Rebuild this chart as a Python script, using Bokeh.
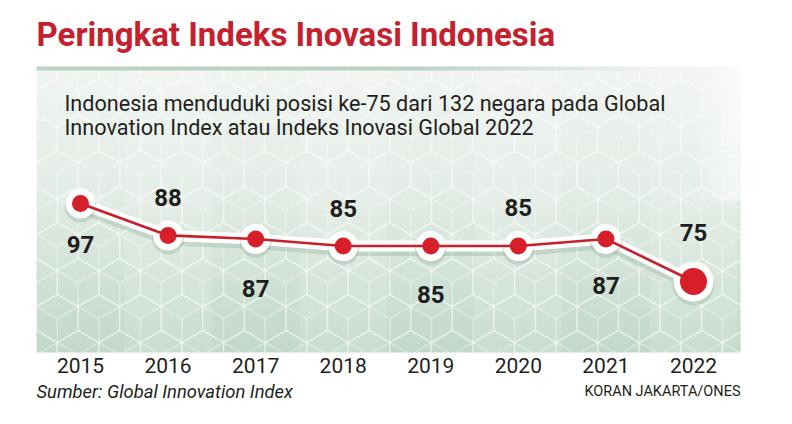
import math
from bokeh.plotting import figure
from bokeh.models import ColumnDataSource, Range1d
from bokeh.core.properties import value
from bokeh.embed import file_html
from bokeh.resources import INLINE

# ---------------- data ----------------
years = [2015, 2016, 2017, 2018, 2019, 2020, 2021, 2022]
ranks = [97, 88, 87, 85, 85, 85, 87, 75]
year_labels = ["2015", "2016", "2017", "2018", "2019", "2020", "2021", "2022"]
title = "Peringkat Indeks Inovasi Indonesia"
subtitle = ["Indonesia menduduki posisi ke-75 dari 132 negara pada Global",
            "Innovation Index atau Indeks Inovasi Global 2022"]
source = "Sumber: Global Innovation Index"
credit = "KORAN JAKARTA/ONES"

# ---------------- scales ----------------
W, H = 776, 408
OFF = 0                  # page offset of the canvas
PX_YEAR = 87.57          # px per year
PX_UNIT = 3.545          # px per rank unit
x_start = years[0] - (80 - OFF) / PX_YEAR
x_end = x_start + W / PX_YEAR
y_end = ranks[0] + (203 - OFF) / PX_UNIT
y_start = y_end - H / PX_UNIT

def dx(X):  # page px -> data x
    return x_start + (X - OFF) / PX_YEAR

def dy(Y):  # page px -> data y
    return y_end - (Y - OFF) / PX_UNIT

p = figure(width=W, height=H, output_backend="svg", toolbar_location=None,
           x_range=Range1d(x_start, x_end), y_range=Range1d(y_start, y_end),
           min_border=0, outline_line_color=None)
p.axis.visible = False
p.grid.visible = False
p.background_fill_color = "white"
p.border_fill_color = "white"

FONT = value("Roboto")

# ---------------- panel background (gradient) ----------------
PL, PR, PT, PB = 36, 740, 66, 352
top_c = (241, 245, 241)
mid_c = (226, 236, 229)
bot_c = (194, 217, 201)
N = 48
l, r, t, b, cols = [], [], [], [], []
for i in range(N):
    y0 = PT + (PB - PT) * i / N
    y1 = PT + (PB - PT) * (i + 1) / N
    f = (i + 0.5) / N
    if f < 0.45:
        g = f / 0.45
        c = tuple(int(top_c[k] + (mid_c[k] - top_c[k]) * g) for k in range(3))
    else:
        g = (f - 0.45) / 0.55
        c = tuple(int(mid_c[k] + (bot_c[k] - mid_c[k]) * g) for k in range(3))
    l.append(dx(PL)); r.append(dx(PR)); t.append(dy(y0)); b.append(dy(min(PB, y1 + 0.6)))
    cols.append("#%02x%02x%02x" % c)
p.quad(left=l, right=r, top=t, bottom=b, fill_color=cols, line_color=None)

# subtle vertical bands
bl, br = [], []
for i in range(len(years)):
    if i % 2 == 1:
        bl.append(max(dx(PL), years[i] - 0.5)); br.append(min(dx(PR), years[i] + 0.5))
p.quad(left=bl, right=br, top=dy(PT), bottom=dy(PB), fill_color="white",
       fill_alpha=0.13, line_color=None)

# right fade to white near top
fl, fr, fa = [], [], []
for i in range(12):
    x0 = 690 + 50 * i / 12
    fl.append(dx(x0)); fr.append(dx(x0 + 50 / 12 + 0.5)); fa.append(0.05 * i)
p.quad(left=fl, right=fr, top=dy(PT), bottom=dy(200), fill_color="white",
       fill_alpha=fa, line_color=None)

# top darker strip
sl, sr, sa = [], [], []
for i in range(30):
    x0 = PL + (640 - PL) * i / 30
    sl.append(dx(x0)); sr.append(dx(x0 + (640 - PL) / 30 + 0.5))
    sa.append(0.9 if i < 18 else 0.9 * (30 - i) / 12)
p.quad(left=sl, right=sr, top=dy(PT), bottom=dy(PT + 4), fill_color="#b5cfbd",
       fill_alpha=sa, line_color=None)

# ---------------- cube pattern ----------------
def clip(x0, y0, x1, y1, xmin, ymin, xmax, ymax):
    t0, t1 = 0.0, 1.0
    ddx, ddy = x1 - x0, y1 - y0
    for pp, q in ((-ddx, x0 - xmin), (ddx, xmax - x0), (-ddy, y0 - ymin), (ddy, ymax - y0)):
        if pp == 0:
            if q < 0:
                return None
        else:
            tt = q / pp
            if pp < 0:
                t0 = max(t0, tt)
            else:
                t1 = min(t1, tt)
    if t0 > t1:
        return None
    return (x0 + t0 * ddx, y0 + t0 * ddy, x0 + t1 * ddx, y0 + t1 * ddy)

R = 24.0
hw = math.sqrt(3) * R
xs0, ys0, xs1, ys1 = [], [], [], []
for row in range(-1, 16):
    for col in range(-1, 20):
        cx = PL + hw * (col + 0.5 * (row % 2))
        cy = PT + 1.5 * R * row
        verts = [(cx + R * math.cos(math.radians(a)), cy + R * math.sin(math.radians(a)))
                 for a in (30, 90, 150, 210, 270, 330)]
        segs = [(verts[k], verts[(k + 1) % 6]) for k in range(6)]
        for k in (1, 3, 5):
            segs.append(((cx, cy), verts[k]))
        for (a, bb) in segs:
            c = clip(a[0], a[1], bb[0], bb[1], PL, PT + 4, PR, PB)
            if c:
                xs0.append(dx(c[0])); ys0.append(dy(c[1]))
                xs1.append(dx(c[2])); ys1.append(dy(c[3]))
p.segment(x0=xs0, y0=ys0, x1=xs1, y1=ys1, line_color="white", line_alpha=0.33,
          line_width=1.6)

# ---------------- line & markers ----------------
src = ColumnDataSource(dict(x=years, y=ranks))
shadow_dy = 3 / PX_UNIT
p.line(x=years, y=[v - shadow_dy for v in ranks], line_color="#8fb39c", line_alpha=0.35,
       line_width=14)
p.line("x", "y", source=src, line_color="white", line_width=11)
big = [False] * (len(years) - 1) + [True]
halo_sizes = [40 if bg else 30 for bg in big]
dot_sizes = [27 if bg else 17 for bg in big]
p.scatter(x=years, y=[v - shadow_dy for v in ranks], size=[s + 2 for s in halo_sizes],
          fill_color="#8fb39c", fill_alpha=0.35, line_color=None)
p.scatter(x=years, y=ranks, size=halo_sizes, fill_color="white", line_color=None)
p.line("x", "y", source=src, line_color="#c8202b", line_width=2.6)
p.scatter(x=years, y=ranks, size=dot_sizes, fill_color="#d71f2a", line_color=None)

# value labels (above / below alternate)
label_dy = [41, -38, 50, -38, 48, -39, 47, -49]
p.text(x=years, y=ranks, text=[str(v) for v in ranks], y_offset=label_dy,
       text_font=FONT, text_font_style="bold", text_font_size="24px",
       text_color="#1e1e1e", text_align="center", text_baseline="middle")

# year labels
p.text(x=years, y=[dy(364.5)] * len(years), text=year_labels, text_font=FONT,
       text_font_size="21px", text_color="#231f20", text_align="center",
       text_baseline="middle")

# ---------------- titles & notes ----------------
p.text(x=[dx(36)], y=[dy(34)], text=[title], text_font=FONT, text_font_style="bold",
       text_font_size="33px", text_color="#c4202e", text_baseline="middle")
p.text(x=[dx(64), dx(64)], y=[dy(102.5), dy(126.5)], text=subtitle, text_font=FONT,
       text_font_size="21.6px", text_color="#231f20", text_baseline="middle")
p.text(x=[dx(36)], y=[dy(391)], text=[source], text_font=FONT, text_font_style="italic",
       text_font_size="18.4px", text_color="#231f20", text_baseline="middle")
p.text(x=[dx(740)], y=[dy(391)], text=[credit], text_font=FONT,
       text_font_size="14.5px", text_color="#231f20", text_align="right",
       text_baseline="middle")

open("out.html", "w").write(file_html(p, INLINE))
